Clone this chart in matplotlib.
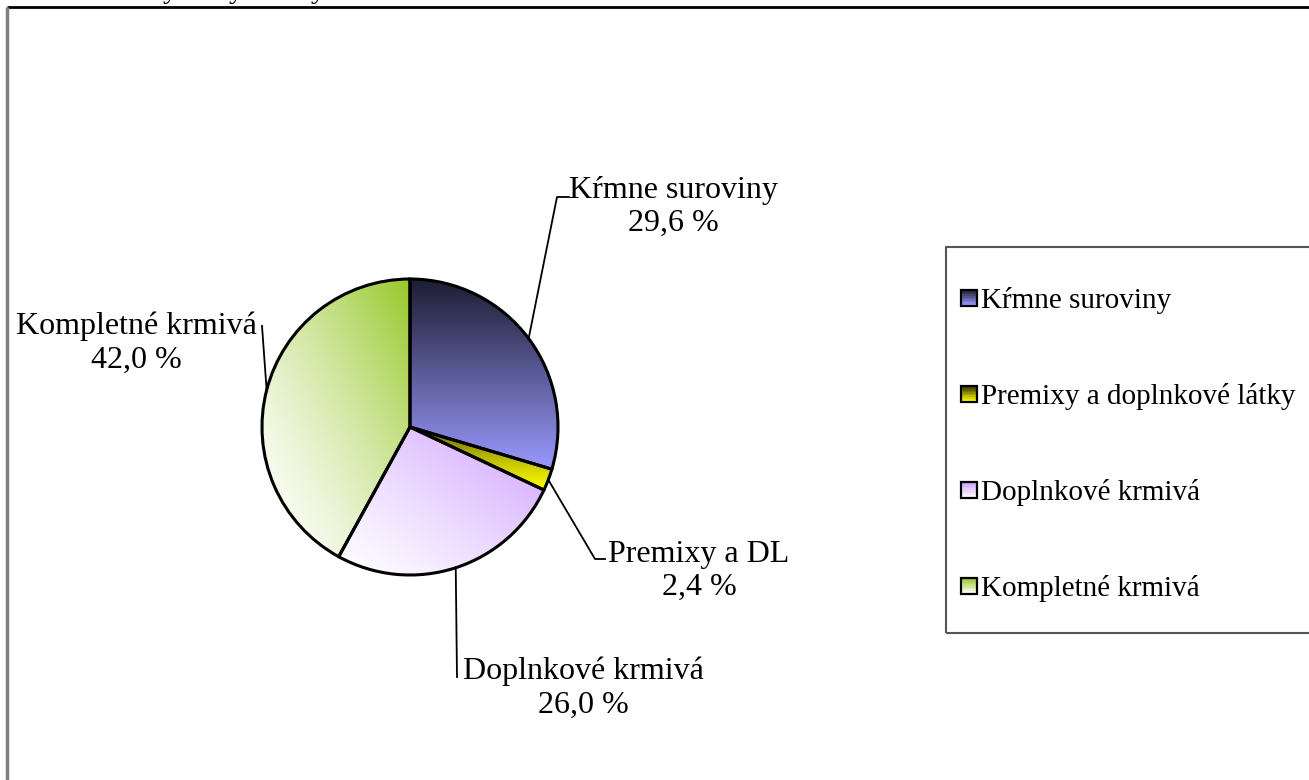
#!/usr/bin/env python3
"""Koláčový graf: štruktúra výroby krmív"""

import numpy as np
import matplotlib
matplotlib.use("Agg")
import matplotlib.pyplot as plt
from matplotlib.patches import Rectangle
from matplotlib.legend_handler import HandlerBase

plt.rcParams['font.family'] = ['Liberation Serif', 'DejaVu Serif']

# data
categories = ['Kŕmne suroviny', 'Premixy a doplnkové látky', 'Doplnkové krmivá', 'Kompletné krmivá']
short_labels = ['Kŕmne suroviny', 'Premixy a DL', 'Doplnkové krmivá', 'Kompletné krmivá']
shares = [29.6, 2.4, 26.0, 42.0]

# gradienty (začiatok, koniec, smer, gama)
grad_start = [(28, 28, 48), (51, 51, 0), (255, 255, 255), (255, 255, 255)]
grad_end = [(153, 153, 255), (255, 255, 0), (206, 160, 255), (150, 200, 40)]
grad_dir = [(0, -1), (0, -1), (1, 1), (1, 1)]   # smer v súradniciach dát (y hore)
grad_gamma = [1.0, 0.6, 1.2, 1.5]

W, H = 1309, 780


def py(y):
    """pixely zhora -> súradnica dát"""
    return H - y


fig = plt.figure(figsize=(W / 100, H / 100), dpi=100)
ax = fig.add_axes([0, 0, 1, 1])

center = (410, py(427))
radius = 148

wedges, _ = ax.pie(shares, startangle=90, counterclock=False, center=center,
                   radius=radius, frame=True,
                   colors=[tuple(c / 255 for c in g) for g in grad_end],
                   wedgeprops=dict(linewidth=0))

# farebné prechody orezané na výseky
for w, c0, c1, d, gam in zip(wedges, grad_start, grad_end, grad_dir, grad_gamma):
    verts = w.get_path().vertices
    x0, y0 = verts.min(axis=0)
    x1, y1 = verts.max(axis=0)
    gx, gy = np.meshgrid(np.linspace(0, 1, 200), np.linspace(0, 1, 200))
    dx, dy = d
    t = dx * gx + dy * gy
    t = ((t - t.min()) / (t.max() - t.min())) ** gam
    c0a = np.array(c0) / 255
    c1a = np.array(c1) / 255
    img = c0a[None, None, :] * (1 - t[..., None]) + c1a[None, None, :] * t[..., None]
    im = ax.imshow(img, extent=(x0, x1, y0, y1), origin='lower',
                   interpolation='bilinear', zorder=2, aspect='auto')
    im.set_clip_path(w)

# obrysy výsekov
ax.pie(shares, startangle=90, counterclock=False, center=center, radius=radius,
       frame=True, colors=['none'] * len(shares),
       wedgeprops=dict(linewidth=2.2, edgecolor='black', zorder=3))

# popisky s odkazovými čiarami
label_pos = [(673, 207), (699, 571), (583, 688), (136, 343)]
elbows = [[(557, 197), (569, 197)], [(595, 559), (605, 559)], [(457, 677)], [(262, 326)]]

angles = 90 - np.cumsum([0] + shares[:-1]) * 3.6 - np.array(shares) * 1.8
for ang, lab, val, pos, elb in zip(angles, short_labels, shares, label_pos, elbows):
    a = np.deg2rad(ang)
    ax_x = center[0] + radius * np.cos(a)
    ax_y = center[1] + radius * np.sin(a)
    xs = [ax_x] + [e[0] for e in elb]
    ys = [ax_y] + [py(e[1]) for e in elb]
    ax.plot(xs, ys, color='black', lw=1.3, zorder=4)
    txt = f"{lab}\n{val:.1f} %".replace('.', ',')
    ax.text(pos[0], py(pos[1]), txt, ha='center', va='center', fontsize=23,
            multialignment='center', linespacing=1.2, zorder=5)


# legenda s farebnými prechodmi v štvorčekoch
class GradientHandler(HandlerBase):
    def __init__(self, top, bottom):
        super().__init__()
        self.top = np.array(top) / 255
        self.bottom = np.array(bottom) / 255

    def create_artists(self, legend, orig_handle, xdescent, ydescent,
                       width, height, fontsize, trans):
        side = min(width, height)
        x0 = -xdescent
        y0 = -ydescent + (height - side) / 2
        n = 10
        arts = []
        for i in range(n):
            t = i / (n - 1)
            col = self.top * (1 - t) + self.bottom * t
            arts.append(Rectangle((x0, y0 + side * (n - 1 - i) / n), side, side / n,
                                  facecolor=col, edgecolor='none', transform=trans))
        arts.append(Rectangle((x0, y0), side, side, facecolor='none',
                              edgecolor='black', lw=1.6, transform=trans))
        return arts


handles = [Rectangle((0, 0), 1, 1) for _ in categories]
hmap = {}
for h, c0, c1, d in zip(handles, grad_start, grad_end, grad_dir):
    if d == (0, -1):
        hmap[h] = GradientHandler(c0, c1)
    else:
        hmap[h] = GradientHandler(c1, c0)

fig.legend(handles, categories, handler_map=hmap, loc='upper left',
           bbox_to_anchor=(961 / W, 1 - 287 / H), frameon=False, fontsize=21,
           borderpad=0, handlelength=0.55, handleheight=0.55, handletextpad=0.15,
           labelspacing=2.37, borderaxespad=0)

# rámik legendy
ax.add_patch(Rectangle((946, py(633)), 420, 386, facecolor='none',
                       edgecolor='#555555', lw=1.5, clip_on=False, zorder=1))

# okraj grafu
ax.plot([7, W], [py(7), py(7)], color='black', lw=2, solid_capstyle='butt')
ax.plot([7, 7], [py(7), 0], color='#808080', lw=2.5, solid_capstyle='butt')

# orezaný nadpis nad okrajom (z pôvodného obrázka vidno len konce písmen)
for xx in (170, 236, 318):
    fig.text(xx / W, 1 + 1.5 / H, 'y', ha='center', va='baseline', fontsize=21)

ax.set_xlim(0, W)
ax.set_ylim(0, H)
ax.set_aspect('equal', adjustable='box')
ax.axis('off')

fig.savefig('out.png', dpi=100)
